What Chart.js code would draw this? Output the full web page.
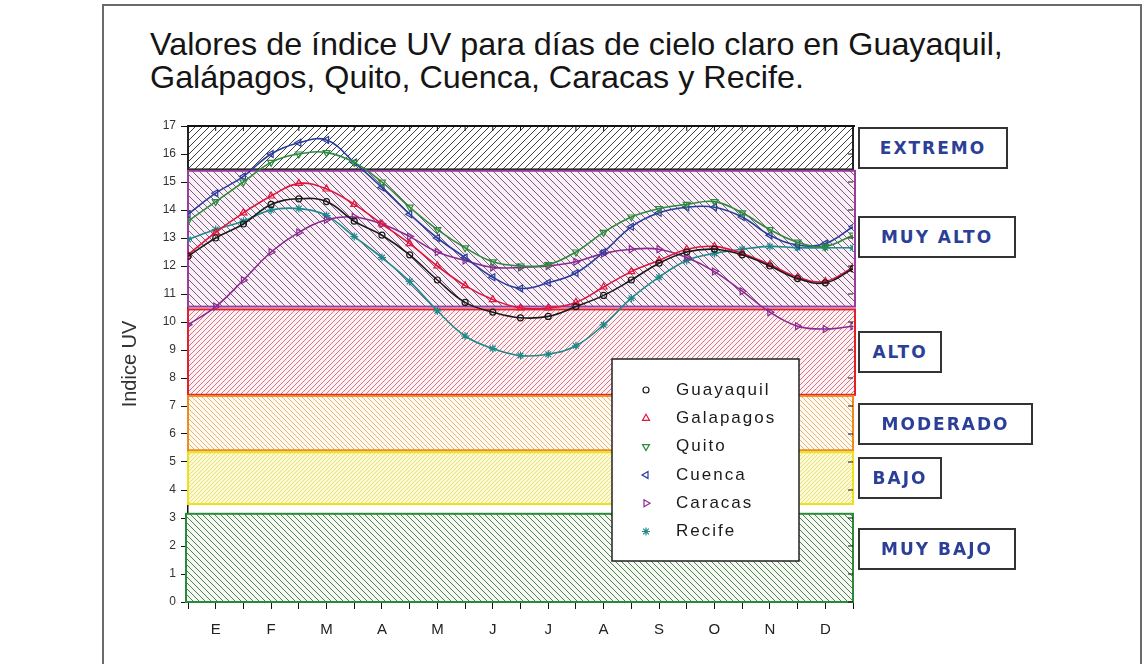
<!DOCTYPE html>
<html><head><meta charset="utf-8">
<script src="https://cdn.jsdelivr.net/npm/chart.js@4/dist/chart.umd.min.js"></script>
<style>
html,body{margin:0;padding:0;background:#fff}
body{width:1147px;height:664px;overflow:hidden;position:relative;font-family:"Liberation Sans",Arial,sans-serif}
#frame{position:absolute;left:102px;top:4px;width:1036px;height:700px;border:2px solid #6a6a6a}
#title{position:absolute;left:150px;top:28px;font-size:32px;line-height:33px;color:#151515;white-space:nowrap;transform:scaleX(1.01);transform-origin:left top}
#c{position:absolute;left:0;top:0}
.lab{position:absolute;left:858px;height:42px;box-sizing:border-box;border:2px solid #333;background:#fff;
 font-family:"DejaVu Sans",Verdana,sans-serif;font-weight:bold;font-size:17px;letter-spacing:2px;color:#2b3f98;
 display:flex;align-items:center;justify-content:center}
</style></head>
<body>
<div id="frame"></div>
<div id="title">Valores de índice UV para días de cielo claro en Guayaquil,<br>Galápagos, Quito, Cuenca, Caracas y Recife.</div>
<canvas id="c" width="1147" height="664"></canvas>
<div class="lab" style="top:127px;width:150px">EXTREMO</div>
<div class="lab" style="top:216px;width:158px">MUY ALTO</div>
<div class="lab" style="top:331px;width:84px">ALTO</div>
<div class="lab" style="top:403px;width:175px">MODERADO</div>
<div class="lab" style="top:457px;width:84px">BAJO</div>
<div class="lab" style="top:528px;width:158px">MUY BAJO</div>
<script>
const months = ['E','F','M','A','M','J','J','A','S','O','N','D'];
const xPos = [0,0.5,1,1.5,2,2.5,3,3.5,4,4.5,5,5.5,6,6.5,7,7.5,8,8.5,9,9.5,10,10.5,11,11.5,12];
const guayaquil = [12.35,13.0,13.5,14.2,14.4,14.3,13.6,13.1,12.4,11.5,10.7,10.35,10.15,10.2,10.55,10.95,11.5,12.1,12.5,12.6,12.4,12.0,11.55,11.4,11.9];
const galapagos = [12.4,13.2,13.9,14.5,14.95,14.75,14.2,13.5,12.8,12.0,11.3,10.8,10.5,10.5,10.7,11.25,11.8,12.2,12.6,12.7,12.45,12.05,11.6,11.45,11.95];
const quito = [13.6,14.3,15.0,15.7,16.0,16.05,15.7,15.0,14.1,13.3,12.65,12.15,12.0,12.05,12.5,13.2,13.75,14.05,14.2,14.3,13.9,13.3,12.85,12.7,13.1];
const cuenca = [13.85,14.6,15.2,16.0,16.4,16.5,15.7,14.8,13.85,13.0,12.3,11.6,11.2,11.4,11.75,12.5,13.4,13.9,14.1,14.1,13.75,13.1,12.75,12.8,13.4];
const caracas = [9.9,10.55,11.5,12.5,13.2,13.65,13.75,13.5,13.05,12.5,12.2,11.95,11.95,12.0,12.15,12.45,12.6,12.6,12.3,11.8,11.1,10.35,9.85,9.75,9.85];
const recife = [12.95,13.3,13.6,14.0,14.05,13.8,13.05,12.3,11.45,10.4,9.5,9.05,8.8,8.85,9.15,9.9,10.85,11.6,12.2,12.45,12.6,12.7,12.65,12.65,12.65];
const seriesNames = ['Guayaquil','Galapagos','Quito','Cuenca','Caracas','Recife'];
const bandNames = ['EXTREMO','MUY ALTO','ALTO','MODERADO','BAJO','MUY BAJO'];
const bandLow  = [15.45,10.55,7.4,5.42,3.5,0];
const bandHigh = [17,15.4,10.45,7.36,5.35,3.15];

const bandStyle = [
 {bg:'#ffffff',line:'#2a2a2a',dir:1,s:7,lw:0.9,border:'#222'},
 {bg:'#fbeef7',line:'#4a3c5c',dir:-1,s:7,lw:0.8,border:'#9a3c9a'},
 {bg:'#fdf2f4',line:'#d4506a',dir:1,s:5,lw:0.8,border:'#e0202e'},
 {bg:'#fffaf2',line:'#e4a455',dir:-1,s:5,lw:0.8,border:'#f08a20'},
 {bg:'#fcf9d8',line:'#e6dc5c',dir:1,s:4,lw:0.8,border:'#ece21c'},
 {bg:'#f6f9f2',line:'#3a7444',dir:-1,s:6,lw:0.9,border:'#2a8a3a'}
];
function makePattern(ctx, st){
  const s = st.s, c = document.createElement('canvas');
  c.width = s; c.height = s;
  const g = c.getContext('2d');
  g.fillStyle = st.bg; g.fillRect(0,0,s,s);
  g.strokeStyle = st.line; g.lineWidth = st.lw;
  g.beginPath();
  if (st.dir === 1){
    g.moveTo(-1,s+1); g.lineTo(s+1,-1);
    g.moveTo(-1,1); g.lineTo(1,-1);
    g.moveTo(s-1,s+1); g.lineTo(s+1,s-1);
  } else {
    g.moveTo(-1,-1); g.lineTo(s+1,s+1);
    g.moveTo(s-1,-1); g.lineTo(s+1,1);
    g.moveTo(-1,s-1); g.lineTo(1,s+1);
  }
  g.stroke();
  return ctx.createPattern(c,'repeat');
}

const colors = ['#1a1a1a','#e0143c','#2e8b3e','#2a3c9c','#8b2a8e','#1f8a8a'];
const styles = ['circle','triangle','triangle','triangle','triangle','star'];
const rots = [0,0,180,270,90,0];
const allSeries = [guayaquil,galapagos,quito,cuenca,caracas,recife];

const datasets = allSeries.map((arr,i)=>({
  label: seriesNames[i],
  data: xPos.map((x,j)=>({x:x,y:arr[j]})),
  borderColor: colors[i],
  backgroundColor: 'rgba(0,0,0,0)',
  borderWidth: 1.6,
  tension: 0.4,
  pointStyle: styles[i],
  pointRotation: rots[i],
  pointRadius: i===0?3:4,
  pointBorderWidth: 1.2,
  pointBorderColor: colors[i],
  pointBackgroundColor: 'rgba(0,0,0,0)'
}));

const bandsPlugin = {
  id:'bands',
  beforeDatasetsDraw(chart){
    const ctx = chart.ctx, y = chart.scales.y, a = chart.chartArea;
    ctx.save();
    bandNames.forEach((n,i)=>{
      const st = bandStyle[i];
      const y1 = y.getPixelForValue(bandHigh[i]), y2 = y.getPixelForValue(bandLow[i]);
      const x1 = a.left + (i===5?-2:0), x2 = a.right + (i===2||i===1?2:0);
      ctx.fillStyle = makePattern(ctx, st);
      ctx.fillRect(x1,y1,x2-x1,y2-y1);
      ctx.strokeStyle = st.border; ctx.lineWidth = 2;
      ctx.strokeRect(x1,y1,x2-x1,y2-y1);
    });
    ctx.restore();
  },
  afterDatasetsDraw(chart){
    const ctx = chart.ctx, a = chart.chartArea, xs = chart.scales.x, ys = chart.scales.y;
    ctx.save();
    ctx.strokeStyle = '#111'; ctx.lineWidth = 2;
    ctx.beginPath(); ctx.moveTo(a.left,a.top); ctx.lineTo(a.right+2,a.top); ctx.stroke();
    ctx.lineWidth = 1;
    ctx.beginPath();
    xs.ticks.forEach(t=>{const px = xs.getPixelForValue(t.value); ctx.moveTo(px,a.top); ctx.lineTo(px,a.top+5);});
    ys.ticks.forEach(t=>{const py = ys.getPixelForValue(t.value); ctx.moveTo(a.right,py); ctx.lineTo(a.right-5,py);});
    ctx.stroke();
    // legend box
    const lx = a.left + 424, ly = a.top + 233, lw = 187, lh = 202;
    ctx.fillStyle = '#fff'; ctx.fillRect(lx,ly,lw,lh);
    ctx.strokeStyle = '#222'; ctx.lineWidth = 1.5; ctx.strokeRect(lx,ly,lw,lh);
    ctx.font = '17px "Liberation Sans", Arial, sans-serif';
    ctx.textBaseline = 'middle';
    if ('letterSpacing' in ctx) ctx.letterSpacing = '2px';
    chart.data.datasets.forEach((ds,i)=>{
      const yy = ly + 31 + i*28.3;
      ctx.fillStyle = 'rgba(0,0,0,0)';
      ctx.strokeStyle = ds.borderColor; ctx.lineWidth = 1.2;
      Chart.helpers.drawPoint(ctx,{pointStyle:ds.pointStyle,rotation:ds.pointRotation,radius:ds.pointRadius,borderWidth:1.2},lx+34,yy);
      ctx.fillStyle = '#1a1a1a';
      ctx.fillText(ds.label, lx+64, yy);
    });
    ctx.restore();
  }
};

new Chart(document.getElementById('c'),{
  type:'line',
  data:{datasets:datasets},
  plugins:[bandsPlugin],
  options:{
    responsive:false, animation:false,
    layout:{padding:{left:112,right:294,top:126,bottom:22}},
    plugins:{legend:{display:false},tooltip:{enabled:false},title:{display:false}},
    scales:{
      x:{type:'linear',min:0,max:12,
        afterFit(s){s.height=40;},
        ticks:{stepSize:0.5,autoSkip:false,maxRotation:0,padding:12,color:'#222',
          font:{size:15,family:'"Liberation Sans", Arial, sans-serif'},
          callback:(v)=>{const f=v%1; return Math.abs(f-0.5)<1e-6 ? months[Math.floor(v)] : '';}},
        grid:{drawOnChartArea:false,drawTicks:true,tickLength:7,color:'#111'},
        border:{display:true,color:'#111',width:1.5}},
      y:{min:0,max:17,
        afterFit(s){s.width=76;},
        ticks:{stepSize:1,color:'#333',padding:5,font:{size:12,family:'"Liberation Sans", Arial, sans-serif'}},
        grid:{drawOnChartArea:false,drawTicks:true,tickLength:7,color:'#111'},
        border:{display:true,color:'#111',width:1.5},
        title:{display:true,text:'Indice UV',color:'#333',font:{size:20,family:'"Liberation Sans", Arial, sans-serif'},padding:{top:6,bottom:0}}}
    }
  }
});
</script>
</body></html>
